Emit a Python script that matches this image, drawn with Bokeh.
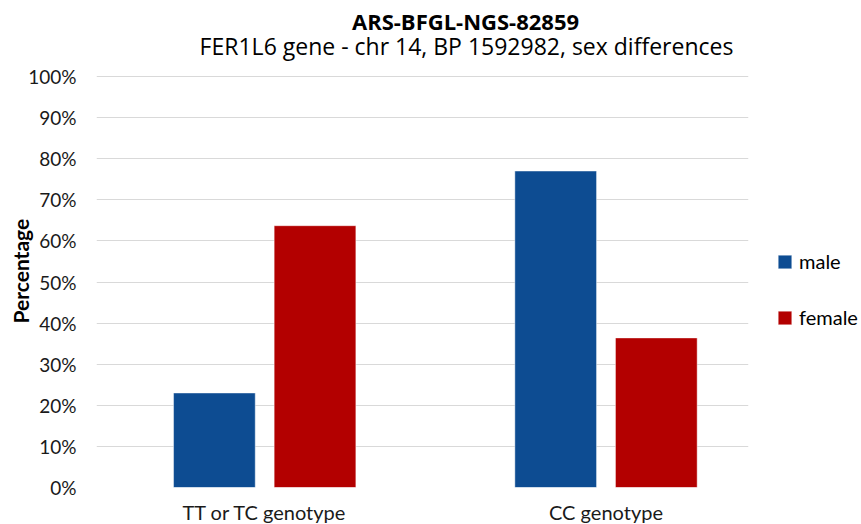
from bokeh.plotting import figure
from bokeh.models import (Range1d, FixedTicker, NumeralTickFormatter, Title, Label,
                          Legend, LegendItem, ColumnDataSource)
from bokeh.transform import dodge
from bokeh.embed import file_html
from bokeh.resources import INLINE

# ---- data ----
categories = ["TT or TC genotype", "CC genotype"]
male = [0.23, 0.77]
female = [0.637, 0.364]
y_ticks = [0.0, 0.1, 0.2, 0.3, 0.4, 0.5, 0.6, 0.7, 0.8, 0.9, 1.0]
title_text = "ARS-BFGL-NGS-82859"
subtitle_text = "FER1L6 gene - chr 14, BP 1592982, sex differences"
y_label = "Percentage"
series_names = ["male", "female"]
colors = ["#0D4C92", "#B30000"]

FONT = "Lato"
TFONT = "Open Sans"
W = 861

# frame: plotting area 652x411 plus a 76px headroom band for the titles
PLOT_H = 411
HEAD = 76
y_top = 1 + HEAD / PLOT_H

idx = list(range(len(categories)))
src = ColumnDataSource(dict(x=idx, male=male, female=female))

p = figure(frame_width=652, frame_height=PLOT_H + HEAD, output_backend="svg",
           toolbar_location=None,
           x_range=Range1d(-0.4928, 1.4175), y_range=Range1d(0, y_top),
           min_border_left=96, min_border_right=W - 96 - 652, min_border_top=0,
           min_border_bottom=36)
p.outline_line_color = None
p.background_fill_color = "white"
p.border_fill_color = "white"

bw = 0.2394
off = 0.1474
r_m = p.vbar(x=dodge("x", -off, range=p.x_range), top="male", width=bw, source=src,
             fill_color=colors[0], line_color="white", line_alpha=0.45, line_width=1)
r_f = p.vbar(x=dodge("x", off, range=p.x_range), top="female", width=bw, source=src,
             fill_color=colors[1], line_color="white", line_alpha=0.45, line_width=1)

p.xaxis.ticker = FixedTicker(ticks=idx)
p.xaxis.major_label_overrides = {i: c for i, c in zip(idx, categories)}
p.xaxis.axis_line_color = None
p.xaxis.major_tick_line_color = None
p.xaxis.minor_tick_line_color = None
p.xaxis.major_tick_out = 0
p.xaxis.major_label_standoff = 12
p.xaxis.major_label_text_font = FONT
p.xaxis.major_label_text_font_size = "20px"
p.xaxis.major_label_text_color = "#1a1a1a"

p.yaxis.ticker = FixedTicker(ticks=y_ticks)
p.yaxis.formatter = NumeralTickFormatter(format="0%")
p.yaxis.axis_line_color = None
p.yaxis.major_tick_line_color = None
p.yaxis.minor_tick_line_color = None
p.yaxis.major_tick_out = 0
p.yaxis.major_label_standoff = 20
p.yaxis.major_label_text_font = FONT
p.yaxis.major_label_text_font_size = "19px"
p.yaxis.major_label_text_color = "#1a1a1a"

p.xgrid.grid_line_color = None
p.ygrid.ticker = FixedTicker(ticks=y_ticks)
p.ygrid.grid_line_color = "#D9D9D9"
p.ygrid.grid_line_width = 1.2

# titles inside the headroom band (screen units from frame bottom-left)
FB = PLOT_H + HEAD
p.add_layout(Label(x=465 - 96, y=FB - 20.5, x_units="screen", y_units="screen",
                   text=title_text, text_font=TFONT, text_font_style="bold",
                   text_font_size="22px", text_align="center",
                   text_baseline="alphabetic", text_color="black"))
p.add_layout(Label(x=466 - 96, y=FB - 45, x_units="screen", y_units="screen",
                   text=subtitle_text, text_font=TFONT, text_font_size="23px",
                   text_align="center", text_baseline="alphabetic", text_color="black"))

# y axis title as a side title so it can be offset along the axis
yt = Title(text=y_label, align="left", offset=164, vertical_align="bottom",
           text_font=FONT, text_font_style="bold", text_font_size="21px",
           text_color="black")
try:
    yt.standoff = -14
except Exception:
    yt.standoff = 0
p.add_layout(yt, "left")

legend = Legend(items=[LegendItem(label=series_names[0], renderers=[r_m]),
                       LegendItem(label=series_names[1], renderers=[r_f])],
                location=(28, 158), orientation="vertical",
                glyph_width=17, glyph_height=17, label_standoff=6, spacing=32,
                padding=0, margin=0, border_line_color=None,
                background_fill_alpha=0,
                label_text_font=FONT, label_text_font_size="20px",
                label_text_color="black")
p.add_layout(legend, "right")

open("out.html", "w").write(file_html(p, INLINE))
